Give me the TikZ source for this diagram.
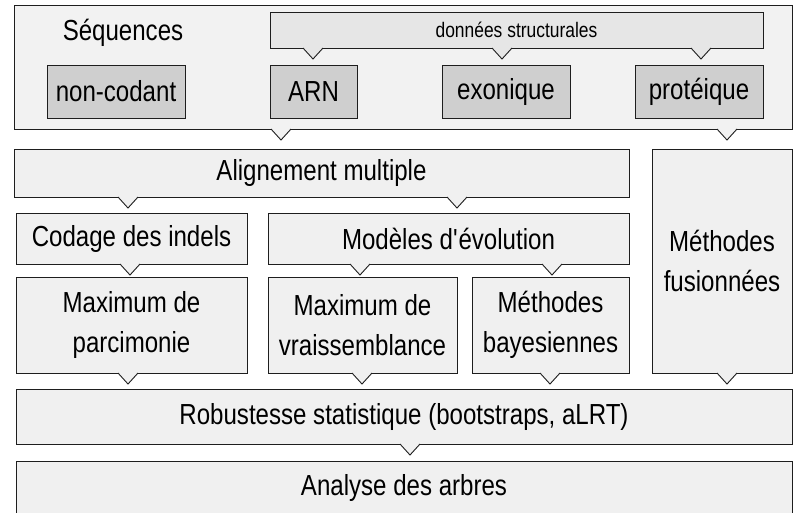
\documentclass[tikz,border=0pt]{standalone}
\usepackage{fontspec}
\setmainfont{Liberation Sans}[FakeStretch=0.83]
\usetikzlibrary{positioning}
\definecolor{paleback}{HTML}{F2F2F2}
\definecolor{palebox}{HTML}{F0F0F0}
\definecolor{structbox}{HTML}{E6E6E6}
\definecolor{seqbox}{HTML}{CFCFCF}
\definecolor{edgegray}{HTML}{1E1E1E}

\newcommand{\tipdown}[3]{%
  \begin{scope}[shift={(#2,0 |- #1.south)}]
    \fill[#3] (-10,-1.5) -- (-10,0) -- (0,11) -- (10,0) -- (10,-1.5) -- cycle;
    \draw[tipline] (-10,0) -- (0,11) -- (10,0);
  \end{scope}}

\begin{document}
\begin{tikzpicture}[x=1pt,y=-1pt,
	box/.style={draw=edgegray, line width=0.9pt, fill=palebox, inner sep=0pt, outer sep=0pt,
		anchor=north west, align=center, font=\fontsize{29}{40}\selectfont},
	backbox/.style={box, fill=paleback},
	structure/.style={box, fill=structbox, font=\fontsize{21}{24}\selectfont},
	seqtype/.style={box, fill=seqbox},
	tipline/.style={draw=edgegray, line width=0.9pt}]
	\clip (0,0) rectangle (793,512);
	\fill[white] (0,0) rectangle (793,512);
	% sequences
	\node (seq) at (14,5) [backbox, minimum width=778pt, minimum height=124pt] {};
	\node (seqlabel) at (123,33) [font=\fontsize{29}{40}\selectfont] {Séquences};
	\node (struct) at (270,12) [structure, minimum width=493pt, minimum height=36pt] {données structurales};
	\node (noncod) at (47,65) [seqtype, minimum width=138pt, minimum height=53pt] {non-codant};
	\node (arn) at (270,65) [seqtype, minimum width=87pt, minimum height=53pt] {ARN};
	\node (exon) at (442,65) [seqtype, minimum width=128pt, minimum height=53pt] {exonique};
	\node (prot) at (635,65) [seqtype, minimum width=128pt, minimum height=53pt] {protéique};
	\tipdown{struct}{313}{structbox}
	\tipdown{struct}{502}{structbox}
	\tipdown{struct}{701}{structbox}
	\tipdown{seq}{281}{paleback}
	\tipdown{seq}{727}{paleback}
	% methodes
	\node (align) at (14,149) [box, minimum width=615pt, minimum height=48pt] {Alignement multiple};
	\node (fusion) at (652,149) [box, minimum width=140pt, minimum height=224pt] {Méthodes\\fusionnées};
	\node (codage) at (16,213) [box, minimum width=231pt, minimum height=51pt] {Codage des indels};
	\node (modeles) at (268,213) [box, minimum width=361pt, minimum height=51pt] {Modèles d\textquotesingle évolution};
	\node (maxpars) at (16,277) [box, minimum width=231pt, minimum height=96pt] {Maximum de\\parcimonie};
	\node (maxvrai) at (268,277) [box, minimum width=189pt, minimum height=96pt] {Maximum de\\vraissemblance};
	\node (bayes) at (472,277) [box, minimum width=157pt, minimum height=96pt] {Méthodes\\bayesiennes};
	\tipdown{align}{128}{palebox}
	\tipdown{align}{457}{palebox}
	\tipdown{codage}{130}{palebox}
	\tipdown{modeles}{360}{palebox}
	\tipdown{modeles}{552}{palebox}
	\tipdown{maxpars}{128}{palebox}
	\tipdown{maxvrai}{362}{palebox}
	\tipdown{bayes}{550}{palebox}
	\tipdown{fusion}{727}{palebox}
	% resultats
	\node (robust) at (16,389) [box, minimum width=776pt, minimum height=55pt] {Robustesse statistique (bootstraps, aLRT)};
	\node (analyse) at (16,461) [box, minimum width=776pt, minimum height=54pt] {Analyse des arbres};
	\tipdown{robust}{410}{palebox}
\end{tikzpicture}
\end{document}
